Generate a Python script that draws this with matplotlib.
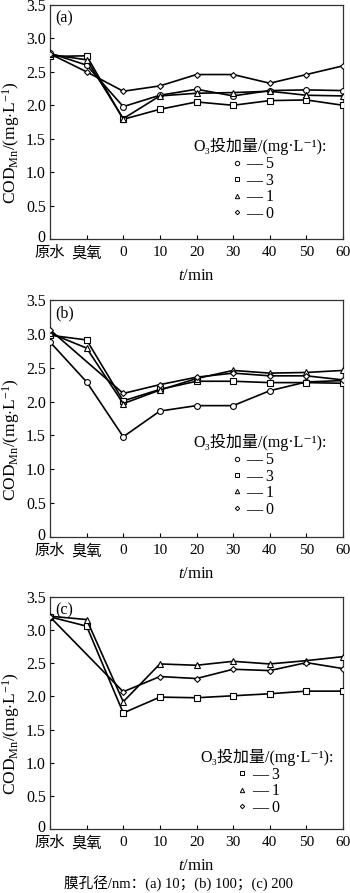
import numpy as np
import matplotlib
matplotlib.use("Agg")
import matplotlib.pyplot as plt
from matplotlib.lines import Line2D
from matplotlib.transforms import ScaledTranslation

plt.rcParams['font.family'] = ['Liberation Serif', 'DejaVu Serif', 'Noto Sans CJK SC']
plt.rcParams['mathtext.fontset'] = 'custom'
plt.rcParams['mathtext.rm'] = 'Liberation Serif'
plt.rcParams['mathtext.it'] = 'Liberation Serif:italic'
plt.rcParams['mathtext.bf'] = 'Liberation Serif:bold'

# ---------------- data ----------------
x_labels = ['原水', '臭氧', '0', '10', '20', '30', '40', '50', '60']
doses = ['5', '3', '1', '0']

# panel (a) membrane 10 nm
a_5 = [2.78, 2.60, 1.98, 2.15, 2.24, 2.14, 2.22, 2.23, 2.22]
a_3 = [2.73, 2.74, 1.79, 1.94, 2.05, 2.00, 2.07, 2.08, 2.00]
a_1 = [2.76, 2.68, 1.80, 2.14, 2.18, 2.19, 2.21, 2.15, 2.14]
a_0 = [2.77, 2.50, 2.21, 2.29, 2.46, 2.46, 2.33, 2.46, 2.59]

# panel (b) membrane 100 nm
b_5 = [2.88, 2.29, 1.48, 1.86, 1.94, 1.94, 2.16, 2.29, 2.31]
b_3 = [2.98, 2.91, 2.01, 2.18, 2.30, 2.30, 2.28, 2.28, 2.27]
b_1 = [3.01, 2.79, 1.97, 2.17, 2.34, 2.46, 2.42, 2.43, 2.46]
b_0 = [3.06, None, 2.12, 2.25, 2.36, 2.42, 2.38, 2.38, 2.32]

# panel (c) membrane 200 nm
c_3 = [3.20, 3.06, 1.75, 1.99, 1.98, 2.01, 2.04, 2.08, 2.08]
c_1 = [3.21, 3.16, 1.92, 2.49, 2.47, 2.53, 2.49, 2.54, 2.60]
c_0 = [3.20, None, 2.07, 2.30, 2.27, 2.41, 2.39, 2.51, 2.42]

y_ticks = [0, 0.5, 1.0, 1.5, 2.0, 2.5, 3.0, 3.5]
y_ticklabels = ['0', '0.5', '1.0', '1.5', '2.0', '2.5', '3.0', '3.5']

markers = {'5': ('o', 4.2), '3': ('s', 4.0), '1': ('^', 4.2), '0': ('D', 3.0)}

panels = [
    ('(a)', {'5': a_5, '3': a_3, '1': a_1, '0': a_0}),
    ('(b)', {'5': b_5, '3': b_3, '1': b_1, '0': b_0}),
    ('(c)', {'3': c_3, '1': c_1, '0': c_0}),
]

W, H = 350, 893
fig = plt.figure(figsize=(W / 100, H / 100), dpi=100)

# pixel boxes: (left, right, top, bottom)
boxes = [(50, 343, 5, 239), (50, 343, 300, 537), (50, 343, 597, 829)]
# legend placement (title x, title y, entries x) in axes fraction
leg_pos = [(0.717, 0.395, 0.615), (0.717, 0.40, 0.615), (0.74, 0.31, 0.635)]

ylabel = r'COD$_{\mathrm{Mn}}$/(mg$\cdot$L$^{-1}$)'

for (label, series), (l, r, t, b), (tx, ty, ex) in zip(panels, boxes, leg_pos):
    ax = fig.add_axes([l / W, 1 - b / H, (r - l) / W, (b - t) / H])
    xs = np.arange(len(x_labels))
    for d in doses:
        if d not in series:
            continue
        vals = np.array([np.nan if v is None else v for v in series[d]], dtype=float)
        m = ~np.isnan(vals)
        mk, ms = markers[d]
        ax.plot(xs[m], vals[m], color='black', lw=1.2, marker=mk, ms=ms,
                mfc='white', mec='black', mew=0.8, zorder=3)
    ax.set_xlim(0, 8)
    ax.set_ylim(0, 3.5)
    ax.set_xticks(xs)
    ax.set_xticklabels(x_labels, fontsize=11)
    ax.set_yticks(y_ticks)
    ax.set_yticklabels(y_ticklabels, fontsize=11.5)
    ax.tick_params(direction='in', length=3, width=0.8)
    ax.tick_params(axis='x', pad=5)
    ax.tick_params(axis='y', pad=3)
    # lift the "0" y tick label slightly so it sits at the corner
    zl = ax.get_yticklabels()[0]
    zl.set_transform(zl.get_transform() + ScaledTranslation(0, 3 / 100, fig.dpi_scale_trans))
    for s in ax.spines.values():
        s.set_linewidth(0.9)
        s.set_color('#333333')
    ax.set_xlabel(r'$\it{t}$/min', fontsize=12, labelpad=5)
    ax.set_ylabel(ylabel, fontsize=12.5)
    ax.yaxis.set_label_coords(-0.097, 0.41)
    ax.text(0.018, 0.978, label, transform=ax.transAxes, fontsize=11.5,
            ha='left', va='top')

    # legend
    keys = [d for d in doses if d in series]
    handles = [Line2D([], [], ls='none', marker=markers[d][0], ms=markers[d][1] * 0.75,
                      mfc='white', mec='black', mew=0.7) for d in keys]
    labels = ['— ' + d for d in keys]
    ax.text(tx, ty, 'O₃投加量/(mg·L⁻¹):', transform=ax.transAxes,
            fontsize=11.5, ha='center', va='center')
    ax.legend(handles, labels, loc='upper left', bbox_to_anchor=(ex, ty - 0.035),
              frameon=False, fontsize=11.5, handlelength=0.6, handletextpad=0.3,
              labelspacing=0.03, borderpad=0.1, borderaxespad=0)

fig.text(178 / W, 1 - 883 / H, '膜孔径/nm：(a) 10；(b) 100；(c) 200', fontsize=10.5,
         ha='center', va='center')

fig.savefig('out.png', dpi=100)
